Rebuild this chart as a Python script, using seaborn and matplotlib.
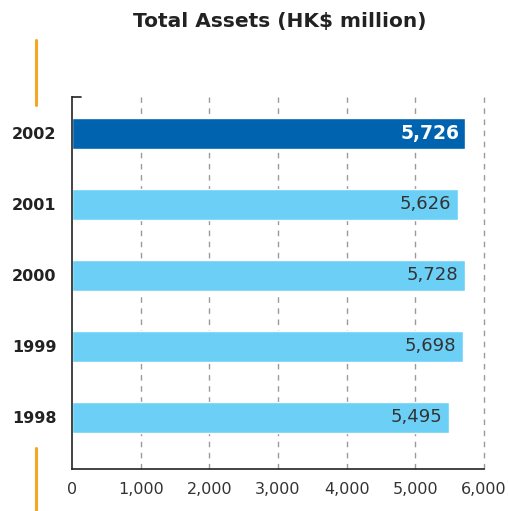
import matplotlib
matplotlib.use("Agg")
import matplotlib.pyplot as plt
import seaborn as sns
import pandas as pd
from matplotlib.lines import Line2D

years = ["2002", "2001", "2000", "1999", "1998"]
assets = [5726, 5626, 5728, 5698, 5495]
labels = ["5,726", "5,626", "5,728", "5,698", "5,495"]
highlight = ["cur", "prev", "prev", "prev", "prev"]
xticks = [0, 1000, 2000, 3000, 4000, 5000, 6000]
xticklabels = ["0", "1,000", "2,000", "3,000", "4,000", "5,000", "6,000"]

df = pd.DataFrame({"year": years, "assets": assets, "kind": highlight})

sns.set_theme(style="white")
plt.rcParams["font.family"] = ["DejaVu Sans"]

fig = plt.figure(figsize=(5.08, 5.11), dpi=100)
ax = fig.add_axes([72/508, 1-469/511, (484-72)/508, (469-97)/511])

palette = {"cur": "#0063AF", "prev": "#6CCFF6"}
sns.barplot(data=df, y="year", x="assets", hue="kind", palette=palette,
            orient="h", width=0.44, dodge=False, legend=False, ax=ax,
            saturation=1)

ax.set_xlim(0, 6000)
ax.set_ylim(4.73, -0.51)
ax.set_xticks(xticks)
ax.set_xticklabels(xticklabels, fontsize=11.5, color="#333333")
ax.set_xlabel("")
ax.set_ylabel("")
ax.tick_params(axis="x", length=0, pad=9)
ax.tick_params(axis="y", length=0, pad=11)
for t in ax.get_yticklabels():
    t.set_fontweight("bold")
    t.set_fontsize(11.5)
    t.set_color("#222222")

for x in xticks[1:]:
    ax.axvline(x, color="#9a9a9a", lw=1, ls=(0, (4, 4)), zorder=0,
               clip_on=False)

for s in ["top", "right"]:
    ax.spines[s].set_visible(False)
for s in ["left", "bottom"]:
    ax.spines[s].set_color("#222222")
    ax.spines[s].set_linewidth(1.2)
ax.plot([0, 130], [-0.51, -0.51], color="#222222", lw=1.2, clip_on=False)

for i, (v, lab, k) in enumerate(zip(assets, labels, highlight)):
    if k == "cur":
        ax.text(v - 80, i, lab, ha="right", va="center", color="white",
                fontsize=13.5, fontweight="bold")
    else:
        ax.text(v - 100, i, lab, ha="right", va="center", color="#333333",
                fontsize=13)

fig.text(280/508, 1-22/511, "Total Assets (HK$ million)", ha="center",
         va="center", fontsize=14.5, fontweight="bold", color="#222222")

fig.add_artist(Line2D([36/508, 36/508], [1-40/511, 1-105/511],
                      color="#F5A623", lw=2.2))
fig.add_artist(Line2D([36/508, 36/508], [1-448/511, 0],
                      color="#F5A623", lw=2.2))

fig.savefig("out.png", dpi=100)
